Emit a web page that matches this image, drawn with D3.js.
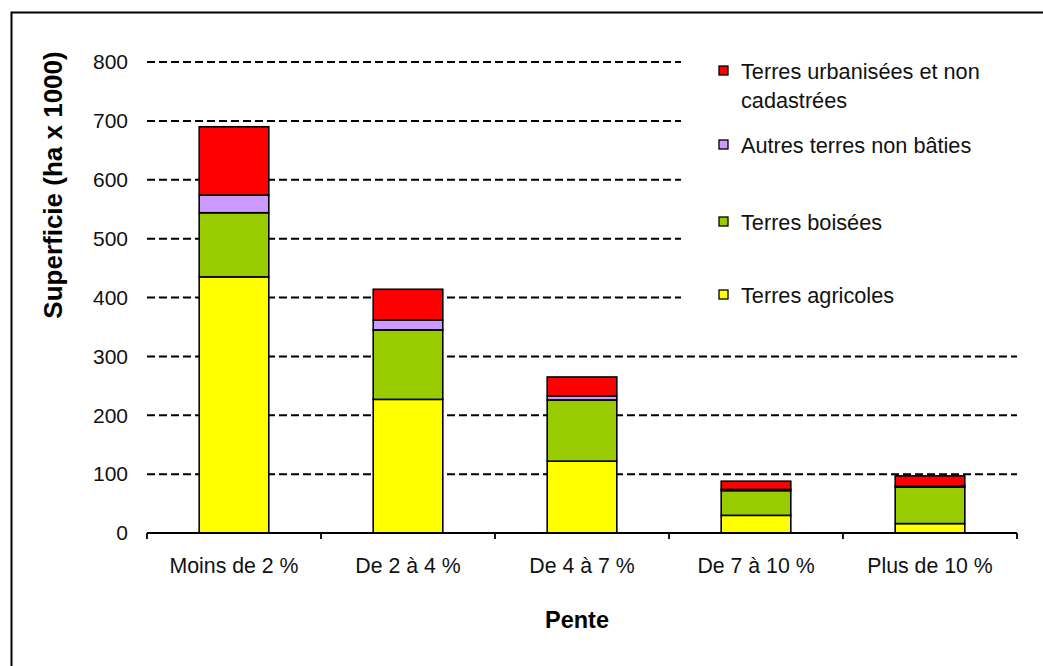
<!DOCTYPE html>
<html>
<head>
<meta charset="utf-8">
<script src="https://cdn.jsdelivr.net/npm/d3@7"></script>
<style>
  html, body { margin: 0; padding: 0; background: #fff; }
  svg { display: block; font-family: "Liberation Sans", Arial, sans-serif; }
</style>
</head>
<body>
<svg id="chart" width="1043" height="666"></svg>
<script>
// Superficie par classe de pente (ha x 1000)
const categories = ["Moins de 2 %", "De 2 à 4 %", "De 4 à 7 %", "De 7 à 10 %", "Plus de 10 %"];
const agricoles  = [435, 227, 122, 30, 16];
const boisees    = [109, 118, 104, 42, 62];
const autres     = [30, 17, 7, 2, 2];
const urbanisees = [116, 52, 32, 14, 17];
const yTicks     = [0, 100, 200, 300, 400, 500, 600, 700, 800];

const seriesNames = [
  "Terres agricoles",
  "Terres boisées",
  "Autres terres non bâties",
  "Terres urbanisées et non cadastrées"
];
const seriesColors = ["#FFFF00", "#99CC00", "#CC99FF", "#FF0000"];

const rows = categories.map((c, i) => ({
  cat: c,
  s0: agricoles[i], s1: boisees[i], s2: autres[i], s3: urbanisees[i]
}));
const stack = d3.stack().keys(["s0", "s1", "s2", "s3"])(rows);

const svg = d3.select("#chart");

// outer frame
svg.append("rect")
  .attr("x", 11.5).attr("y", 12.5)
  .attr("width", 1100).attr("height", 700)
  .attr("fill", "#fff").attr("stroke", "#000").attr("stroke-width", 2);

const x = d3.scaleBand().domain(categories).range([147, 1017]).paddingInner(0.6).paddingOuter(0.3);
const xEdge = d3.scaleLinear().domain([0, categories.length]).range([147, 1017]);
const y = d3.scaleLinear().domain([0, 800]).range([533, 62]);

// dashed gridlines
svg.append("g").selectAll("line")
  .data(yTicks.filter(t => t > 0))
  .join("line")
  .attr("x1", 147).attr("x2", 1017)
  .attr("y1", d => y(d)).attr("y2", d => y(d))
  .attr("stroke", "#000").attr("stroke-width", 2)
  .attr("stroke-dasharray", "8,4");

// y tick labels
svg.append("g").selectAll("text")
  .data(yTicks)
  .join("text")
  .attr("x", 128).attr("y", d => y(d))
  .attr("dy", "0.35em")
  .attr("text-anchor", "end")
  .attr("font-size", 21)
  .attr("fill", "#111")
  .text(d => d);

// stacked bars
svg.append("g").selectAll("g")
  .data(stack)
  .join("g")
  .attr("fill", (d, i) => seriesColors[i])
  .selectAll("rect")
  .data(d => d)
  .join("rect")
  .attr("x", d => x(d.data.cat))
  .attr("width", x.bandwidth())
  .attr("y", d => y(d[1]))
  .attr("height", d => y(d[0]) - y(d[1]))
  .attr("stroke", "#000").attr("stroke-width", 1.6);

// x axis
const xAxis = svg.append("g");
xAxis.append("line")
  .attr("x1", 147).attr("x2", 1017).attr("y1", 533).attr("y2", 533)
  .attr("stroke", "#000").attr("stroke-width", 1.8);
xAxis.selectAll("line.tick")
  .data(d3.range(categories.length + 1))
  .join("line")
  .attr("class", "tick")
  .attr("x1", d => xEdge(d)).attr("x2", d => xEdge(d))
  .attr("y1", 533).attr("y2", 539)
  .attr("stroke", "#000").attr("stroke-width", 1.8);
xAxis.selectAll("text")
  .data(categories)
  .join("text")
  .attr("x", d => x(d) + x.bandwidth() / 2)
  .attr("y", 573)
  .attr("text-anchor", "middle")
  .attr("font-size", 21.3)
  .attr("fill", "#111")
  .text(d => d);

// axis titles
svg.append("text")
  .attr("transform", "translate(62,185) rotate(-90)")
  .attr("text-anchor", "middle")
  .attr("font-size", 26).attr("font-weight", "bold")
  .text("Superficie (ha x 1000)");

svg.append("text")
  .attr("x", 577).attr("y", 628)
  .attr("text-anchor", "middle")
  .attr("font-size", 23.5).attr("font-weight", "bold")
  .text("Pente");

// legend (white box over the gridlines)
const legend = svg.append("g");
legend.append("rect")
  .attr("x", 681).attr("y", 45).attr("width", 340).attr("height", 272)
  .attr("fill", "#fff");

const legendItems = [
  { i: 3, lines: ["Terres urbanisées et non", "cadastrées"], y: 71 },
  { i: 2, lines: ["Autres terres non bâties"], y: 145 },
  { i: 1, lines: ["Terres boisées"], y: 222 },
  { i: 0, lines: ["Terres agricoles"], y: 295 }
];
const li = legend.selectAll("g.item")
  .data(legendItems)
  .join("g").attr("class", "item");
li.append("rect")
  .attr("x", 719).attr("y", d => d.y - 5)
  .attr("width", 9).attr("height", 9)
  .attr("fill", d => seriesColors[d.i])
  .attr("stroke", "#000").attr("stroke-width", 1.3);
li.append("text")
  .attr("font-size", 21.7)
  .attr("fill", "#111")
  .selectAll("tspan")
  .data(d => d.lines.map((t, k) => ({ t, k, y: d.y })))
  .join("tspan")
  .attr("x", 741)
  .attr("y", d => d.y + d.k * 29)
  .attr("dy", "0.35em")
  .text(d => d.t);
</script>
</body>
</html>
